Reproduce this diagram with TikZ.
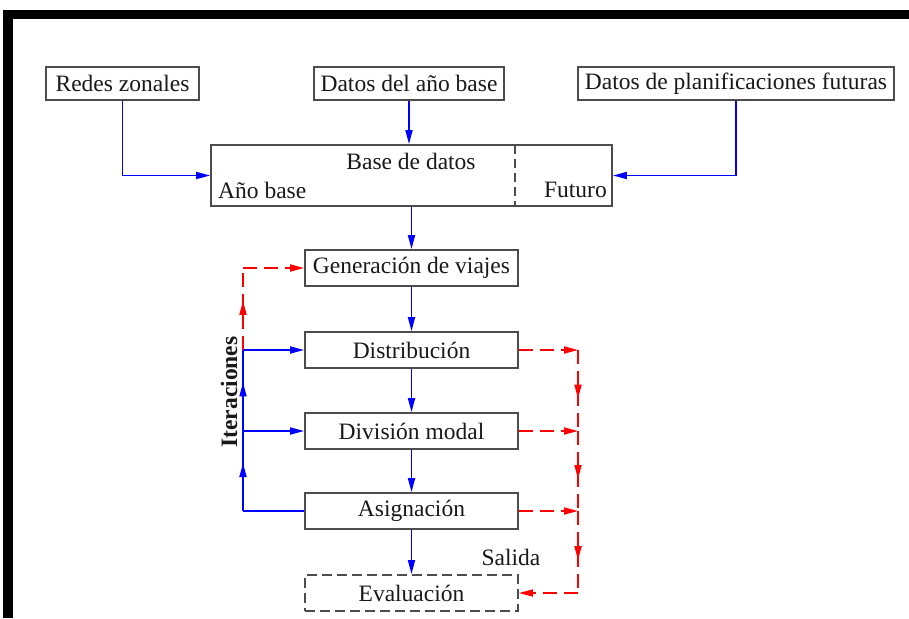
\documentclass[tikz,border=0pt]{standalone}
\usepackage{fontspec}
\setmainfont{Liberation Serif}
\usetikzlibrary{arrows.meta,decorations.markings,calc}
\begin{document}
\begin{tikzpicture}[x=1pt,y=-1pt,
  box/.style={draw=black!70,line width=1.8pt,rectangle,inner sep=0pt,
    font=\fontsize{23.5}{27}\selectfont,text=black!90},
  lbl/.style={inner sep=0pt,font=\fontsize{23.5}{27}\selectfont,text=black!90},
  topbox/.style={box,minimum height=33pt},
  stepbox/.style={box,minimum width=213pt,minimum height=36pt},
  tip/.style={-{Triangle[length=14pt,width=7pt]}},
  blueline/.style={draw=blue,line width=1.7pt},
  redline/.style={draw=red,line width=1.7pt,dash pattern=on 14pt off 7pt},
  midarrow/.style={decoration={markings,mark=at position 0.6 with {\arrow{Triangle[length=14pt,width=7pt]}}},postaction=decorate}
]
\useasboundingbox (0,0) rectangle (909,618);
\fill[white] (0,0) rectangle (909,618);
% frame
\fill[black] (3,10) rectangle (909,19);
\fill[black] (3,10) rectangle (13,618);

% top boxes
\node[topbox,minimum width=153pt] (redes) at (122.5,83.5) {Redes zonales};
\node[topbox,minimum width=190pt] (anio) at (409,83.5) {Datos del año base};
\node[topbox,minimum width=316pt] (fut) at (736,83.5) {Datos de planificaciones futuras};

% data base
\node[box,minimum width=401pt,minimum height=61pt] (base) at (411.5,175.5) {};
\draw[draw=black!70,line width=1.8pt,dash pattern=on 9pt off 5pt] (515,145) coordinate (dv1) -- (515,206) coordinate (dv2);
\node[lbl] (basetxt) at (411,161) {Base de datos};
\node[lbl,anchor=west] (aniobase) at (218,190) {Año base};
\node[lbl,anchor=east] (futuro) at (607,190) {Futuro};

% steps
\node[stepbox] (gen) at (411.5,268) {Generación de viajes};
\node[stepbox] (dist) at (411.5,350) {Distribución};
\node[stepbox] (div) at (411.5,431) {División modal};
\node[stepbox] (asig) at (411.5,511) {Asignación};
\node[stepbox,dash pattern=on 10pt off 5pt] (eval) at (411.5,593) {Evaluación};

% blue arrows
\draw[blueline,tip] (redes.south) |- (base.west);
\draw[blueline,tip] (anio.south) -- (anio.south |- base.north);
\draw[blueline,tip] (fut.south) |- (base.east);
\draw[blueline,tip] (base.south) -- (gen.north);
\draw[blueline,tip] (gen.south) -- (dist.north);
\draw[blueline,tip] (dist.south) -- (div.north);
\draw[blueline,tip] (div.south) -- (asig.north);
\draw[blueline,tip] (asig.south) -- (eval.north);

% left loop
\coordinate (la) at (243,511);
\coordinate (lb) at (243,431);
\coordinate (lc) at (243,350);
\coordinate (ld) at (243,268);
\draw[blueline] (asig.west) -- (la);
\draw[blueline,midarrow] (la) -- (lb);
\draw[blueline,midarrow] (lb) -- (lc);
\draw[blueline,tip] (lb) -- (div.west);
\draw[blueline,tip] (lc) -- (dist.west);
\draw[redline,midarrow] (lc) -- (ld);
\draw[redline,tip] (ld) -- (gen.west);
\node[lbl,rotate=90,font=\fontsize{23.5}{27}\selectfont\bfseries] (iter) at (229,392) {Iteraciones};

% right loop
\coordinate (ra) at (578,350);
\coordinate (rb) at (578,431);
\coordinate (rc) at (578,511);
\coordinate (rd) at (578,593);
\draw[redline,tip] (dist.east) -- (ra);
\draw[redline,tip] (div.east) -- (rb);
\draw[redline,tip] (asig.east) -- (rc);
\draw[redline,midarrow] (ra) -- (rb);
\draw[redline,midarrow] (rb) -- (rc);
\draw[redline,midarrow] (rc) -- (rd);
\draw[redline,tip] (rd) -- (eval.east);
\node[lbl] (salida) at (511,557) {Salida};
\end{tikzpicture}
\end{document}
